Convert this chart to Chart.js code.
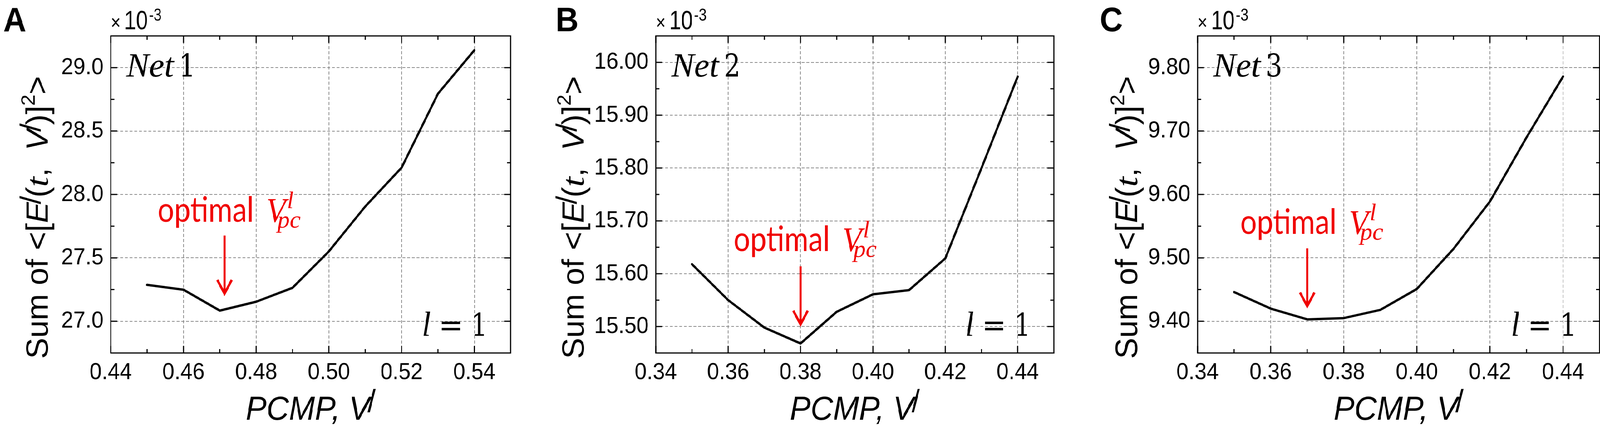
<!DOCTYPE html>
<html><head><meta charset="utf-8">
<script src="https://cdn.jsdelivr.net/npm/chart.js@4.4.1/dist/chart.umd.min.js"></script>
<style>
html,body{margin:0;padding:0;background:#fff;width:100%;height:100%;overflow:hidden}
#wrap{position:absolute;left:0;top:0;width:4421px;height:1091px;transform-origin:0 0}
.p{position:absolute;top:0;height:1091px}
canvas{display:block}
</style></head><body>
<div id="wrap">
<div class="p" style="left:0px;width:1430px"><canvas id="ca" width="1430" height="1091"></canvas></div>
<div class="p" style="left:1430px;width:1500px"><canvas id="cb" width="1500" height="1091"></canvas></div>
<div class="p" style="left:2930px;width:1491px"><canvas id="cc" width="1491" height="1091"></canvas></div>
</div>
<script>
// fit the 4421x1091 figure into the actual viewport
(function () {
  const sxv = Math.min(1, (window.innerWidth || 4421) / 4421);
  const syv = Math.min(1, (window.innerHeight || 1091) / 1091);
  document.getElementById('wrap').style.transform = 'scale(' + sxv + ',' + syv + ')';
})();

// ---- data ----
const xNet1 = [0.45, 0.46, 0.47, 0.48, 0.49, 0.50, 0.51, 0.52, 0.53, 0.54];
const yNet1 = [27.287, 27.249, 27.084, 27.154, 27.264, 27.551, 27.905, 28.211, 28.794, 29.137];
const xNet2 = [0.35, 0.36, 0.37, 0.38, 0.39, 0.40, 0.41, 0.42, 0.43, 0.44];
const yNet2 = [15.618, 15.550, 15.498, 15.468, 15.528, 15.561, 15.569, 15.629, 15.800, 15.973];
const xNet3 = [0.35, 0.36, 0.37, 0.38, 0.39, 0.40, 0.41, 0.42, 0.43, 0.44];
const yNet3 = [9.446, 9.420, 9.403, 9.405, 9.418, 9.451, 9.514, 9.589, 9.690, 9.786];
const xTicksNet1 = [0.44, 0.46, 0.48, 0.50, 0.52, 0.54];
const xTicksNet23 = [0.34, 0.36, 0.38, 0.40, 0.42, 0.44];
const yTicksNet1 = [27.0, 27.5, 28.0, 28.5, 29.0];
const yTicksNet2 = [15.50, 15.60, 15.70, 15.80, 15.90, 16.00];
const yTicksNet3 = [9.40, 9.50, 9.60, 9.70, 9.80];
const panelLetters = ['A', 'B', 'C'];
const netNames = ['1', '2', '3'];
const optimalX = [0.4713, 0.38, 0.37];

// ---- helpers ----
const SANS = '"Liberation Sans", Arial, sans-serif';
const SERIF = '"Liberation Serif", "Times New Roman", serif';
const DSERIF = '"DejaVu Serif", serif';
function runsWidth(ctx, runs) {
  let w = 0;
  for (const r of runs) { ctx.font = r.f; w += ctx.measureText(r.t).width * (r.sx || 1) + (r.gap || 0); }
  return w;
}
function drawRuns(ctx, runs, x, y, color) {
  let cx = x;
  for (const r of runs) {
    ctx.font = r.f; ctx.fillStyle = color;
    const sx = r.sx || 1;
    ctx.save(); ctx.translate(cx + (r.dx || 0), y + (r.dy || 0)); ctx.scale(sx, 1);
    ctx.fillText(r.t, 0, 0); ctx.restore();
    cx += ctx.measureText(r.t).width * sx + (r.gap || 0);
  }
  return cx;
}
function minors(maj, lo, hi) {
  const st = maj[1] - maj[0], out = [];
  const all = [maj[0] - st / 2].concat(maj.map(v => v + st / 2));
  for (const v of all) if (v > lo + st * 0.01 && v < hi - st * 0.01) out.push(v);
  return out;
}

function makePanel(p) {
  const deco = {
    id: 'deco' + p.idx,
    afterDraw(chart) {
      const ctx = chart.ctx, a = chart.chartArea, xs = chart.scales.x, ys = chart.scales.y;
      ctx.save();
      ctx.textBaseline = 'alphabetic'; ctx.textAlign = 'left';
      // inward ticks on all four sides
      ctx.strokeStyle = '#000'; ctx.lineWidth = 3; ctx.lineCap = 'butt';
      ctx.beginPath();
      const tk = (v, len, isX) => {
        if (isX) { const px = xs.getPixelForValue(v);
          ctx.moveTo(px, a.bottom); ctx.lineTo(px, a.bottom - len);
          ctx.moveTo(px, a.top); ctx.lineTo(px, a.top + len);
        } else { const py = ys.getPixelForValue(v);
          ctx.moveTo(a.left, py); ctx.lineTo(a.left + len, py);
          ctx.moveTo(a.right, py); ctx.lineTo(a.right - len, py);
        }
      };
      p.xTicks.forEach(v => tk(v, 18, true));
      minors(p.xTicks, xs.min, xs.max).forEach(v => tk(v, 10, true));
      p.yTicks.forEach(v => tk(v, 18, false));
      minors(p.yTicks, ys.min, ys.max).forEach(v => tk(v, 10, false));
      ctx.stroke();
      // frame
      ctx.strokeRect(a.left, a.top, a.right - a.left, a.bottom - a.top);

      // panel letter
      ctx.fillStyle = '#000';
      ctx.font = 'bold 88px ' + SANS;
      ctx.fillText(p.letter, a.left - p.letterOff, 80);
      // x10^-3 multiplier
      drawRuns(ctx, [
        {t: '\u00d7', f: '52px ' + SANS, sx: 0.9, gap: 10},
        {t: '10', f: '68px ' + SANS, sx: 0.86, gap: 3},
        {t: '-3', f: '44px ' + SANS, sx: 0.9, dy: -22}
      ], a.left, 75, '#000');

      // Net N
      drawRuns(ctx, [
        {t: 'Net', f: 'italic 86px ' + SERIF, sx: 1.1, gap: 14},
        {t: p.net, f: '80px ' + DSERIF, sx: 0.9}
      ], a.left + 43, 196, '#000');

      // l = 1
      const lr = [
        {t: 'l', f: 'italic 88px ' + SERIF, gap: 22},
        {t: '=', f: '80px ' + DSERIF, gap: 22},
        {t: '1', f: '80px ' + DSERIF, sx: 0.9}
      ];
      drawRuns(ctx, lr, a.right - 64 - runsWidth(ctx, lr), 860, '#000');

      // optimal V_pc^l annotation + arrow
      const RED = '#f00000';
      const axp = xs.getPixelForValue(p.arrowX);
      const ob = ys.getPixelForValue(p.optBase);
      const OF = '90px Lato, "Open Sans", sans-serif';
      ctx.font = OF;
      const osx = 266 / ctx.measureText('optimal').width;
      const ox = axp - 185;
      drawRuns(ctx, [{t: 'optimal', f: OF, sx: osx}], ox, ob, RED);
      const vx = ox + 300;
      drawRuns(ctx, [{t: 'V', f: 'italic 89px ' + SERIF}], vx, ob, RED);
      drawRuns(ctx, [{t: 'l', f: 'italic 62px ' + SERIF}], vx + 58, ob - 35, RED);
      drawRuns(ctx, [{t: 'pc', f: 'italic 62px ' + SERIF, sx: 1.1}], vx + 31, ob + 15, RED);
      const at = ys.getPixelForValue(p.arrowTop), ap = ys.getPixelForValue(p.arrowTip);
      ctx.strokeStyle = RED; ctx.lineWidth = 6;
      ctx.beginPath(); ctx.moveTo(axp, at); ctx.lineTo(axp, ap - 4); ctx.stroke();
      ctx.lineJoin = 'miter'; ctx.lineWidth = 6.5;
      ctx.beginPath(); ctx.moveTo(axp - 20, ap - 38); ctx.lineTo(axp, ap - 3); ctx.lineTo(axp + 20, ap - 38); ctx.stroke();

      // y title (rotated)
      const YS = '85px ' + SANS, YI = 'italic 85px ' + SANS, PR = '80px ' + SANS;
      const yr = [
        {t: 'Sum of <[', f: YS},
        {t: 'E', f: YI, gap: -6},
        {t: '/', f: PR, dy: -20, gap: -4},
        {t: '(', f: YS},
        {t: 't', f: 'italic 86px ' + SERIF, sx: 1.15},
        {t: ',  ', f: YS},
        {t: 'V', f: YI, gap: -6},
        {t: '/', f: PR, dy: -20, gap: -4},
        {t: ')]', f: YS},
        {t: '2', f: '54px ' + SANS, dy: -36},
        {t: '>', f: YS}
      ];
      ctx.save();
      ctx.translate(a.left - p.yTitleOff, 557);
      ctx.rotate(-Math.PI / 2);
      const yw = runsWidth(ctx, yr);
      ctx.scale(0.95, 1);
      drawRuns(ctx, yr, -yw / 2, 0, '#000');
      ctx.restore();

      // x title
      const xr = [
        {t: 'PCMP, V', f: 'italic 86px ' + SANS, gap: -6},
        {t: '/', f: '81px ' + SANS, dy: -20}
      ];
      const xw = runsWidth(ctx, xr);
      drawRuns(ctx, xr, (a.left + a.right) / 2 - xw / 2, 1075, '#000');
      ctx.restore();
    }
  };

  new Chart(document.getElementById(p.id), {
    type: 'line',
    data: { datasets: [{
      data: p.x.map((x, i) => ({x: x, y: p.y[i]})),
      borderColor: '#000', borderWidth: 6, pointRadius: 0, tension: 0,
      fill: false, borderJoinStyle: 'round', borderCapStyle: 'round'
    }]},
    options: {
      responsive: false, animation: false, devicePixelRatio: 1,
      layout: { padding: { left: 0, right: p.padR, top: 92, bottom: 0 } },
      plugins: { legend: { display: false }, tooltip: { enabled: false } },
      scales: {
        x: {
          type: 'linear', min: p.xMin, max: p.xMax,
          afterBuildTicks: s => { s.ticks = p.xTicks.map(v => ({value: v})); },
          afterFit: s => { s.height = 187; },
          ticks: { callback: v => Number(v).toFixed(2), font: { family: 'Liberation Sans', size: 60 },
                   color: '#000', padding: 14, maxRotation: 0, autoSkip: false },
          grid: { drawTicks: false, color: '#8c8c8c', lineWidth: 2 },
          border: { display: false, dash: [8, 5] }
        },
        y: {
          type: 'linear', min: p.yMin, max: p.yMax,
          afterBuildTicks: s => { s.ticks = p.yTicks.map(v => ({value: v})); },
          afterFit: s => { s.width = p.yW; },
          ticks: { callback: v => Number(v).toFixed(p.yDec), font: { family: 'Liberation Sans', size: 60 },
                   color: '#000', padding: 20, autoSkip: false },
          grid: { drawTicks: false, color: '#8c8c8c', lineWidth: 2 },
          border: { display: false, dash: [8, 5] }
        }
      }
    },
    plugins: [deco]
  });
}

makePanel({ idx: 0, id: 'ca', x: xNet1, y: yNet1, xTicks: xTicksNet1, yTicks: yTicksNet1,
  xMin: 0.44, xMax: 0.55, yMin: 26.75, yMax: 29.25, yDec: 1, yW: 306, padR: 19,
  letter: panelLetters[0], net: netNames[0], letterOff: 297, yTitleOff: 174,
  arrowX: optimalX[0], arrowTop: 27.676, arrowTip: 27.209, optBase: 27.784 });
makePanel({ idx: 1, id: 'cb', x: xNet2, y: yNet2, xTicks: xTicksNet23, yTicks: yTicksNet2,
  xMin: 0.34, xMax: 0.45, yMin: 15.45, yMax: 16.05, yDec: 2, yW: 382, padR: 18,
  letter: panelLetters[1], net: netNames[1], letterOff: 277, yTitleOff: 199,
  arrowX: optimalX[1], arrowTop: 15.614, arrowTip: 15.502, optBase: 15.643 });
makePanel({ idx: 2, id: 'cc', x: xNet3, y: yNet3, xTicks: xTicksNet23, yTicks: yTicksNet3,
  xMin: 0.34, xMax: 0.45, yMin: 9.35, yMax: 9.85, yDec: 2, yW: 379, padR: 1,
  letter: panelLetters[2], net: netNames[2], letterOff: 270, yTitleOff: 167,
  arrowX: optimalX[2], arrowTop: 9.515, arrowTip: 9.422, optBase: 9.538 });
</script>
</body></html>
